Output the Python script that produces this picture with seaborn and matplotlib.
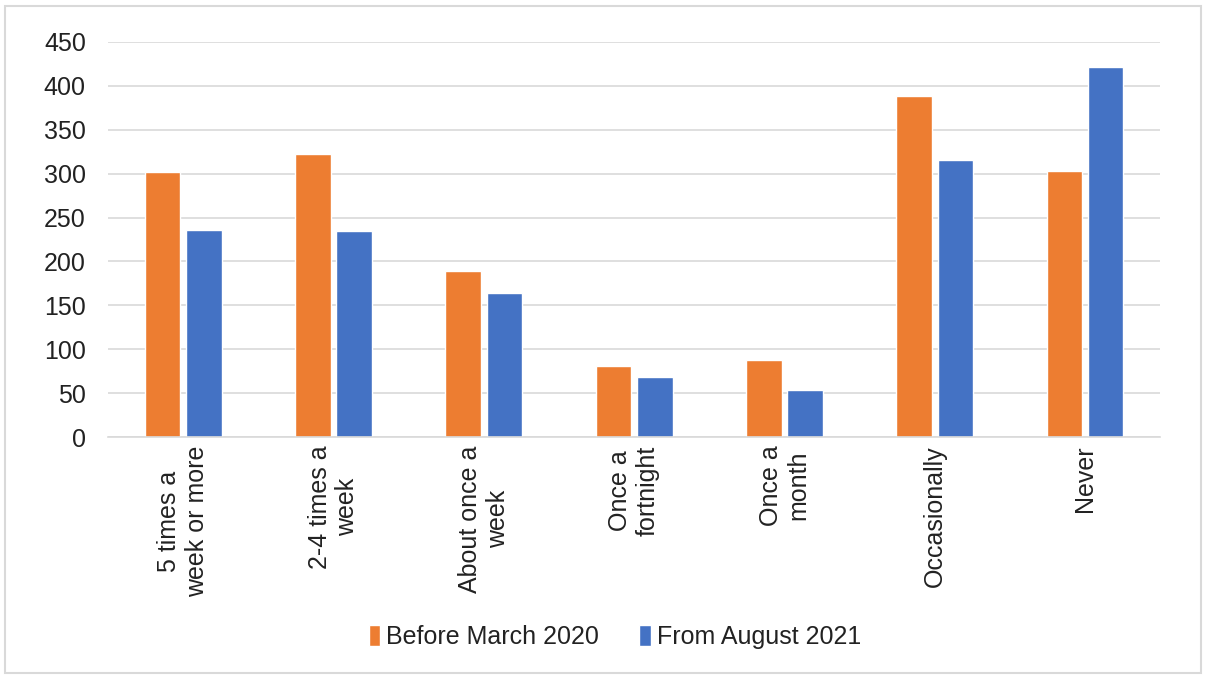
import matplotlib
matplotlib.use("Agg")
import matplotlib.pyplot as plt
import seaborn as sns
import pandas as pd
from matplotlib.patches import Rectangle

categories = ["5 times a\nweek or more", "2-4 times a\nweek", "About once a\nweek",
              "Once a\nfortnight", "Once a\nmonth", "Occasionally", "Never"]
series_names = ["Before March 2020", "From August 2021"]
before_2020 = [302, 322, 189, 81, 88, 389, 303]
from_2021 = [236, 235, 164, 68, 53, 315, 421]
y_ticks = [0, 50, 100, 150, 200, 250, 300, 350, 400, 450]

df = pd.DataFrame({
    "Category": categories * 2,
    "Series": [series_names[0]] * len(categories) + [series_names[1]] * len(categories),
    "Value": before_2020 + from_2021,
})

sns.set_theme(style="white")
plt.rcParams["font.family"] = ["Liberation Sans", "DejaVu Sans"]

fig = plt.figure(figsize=(12.06, 6.77), dpi=100)
ax = fig.add_axes([0.0896, 0.3545, 0.8724, 0.5835])

sns.barplot(data=df, x="Category", y="Value", hue="Series",
            palette=["#ED7D31", "#4472C4"], width=0.55, gap=0.14,
            saturation=1, ax=ax, legend=True)

ax.set_ylim(0, 450)
ax.set_yticks(y_ticks)
ax.set_yticklabels([str(t) for t in y_ticks], fontsize=18, color="#222222")
ax.yaxis.grid(True, color="#d9d9d9", linewidth=1.2)
ax.set_axisbelow(True)
ax.set_xlabel("")
ax.set_ylabel("")
for s in ["top", "right", "left"]:
    ax.spines[s].set_visible(False)
ax.spines["bottom"].set_color("#d9d9d9")
ax.spines["bottom"].set_linewidth(1.2)
ax.tick_params(axis="y", length=0, pad=16)
ax.tick_params(axis="x", length=0, pad=6)
for lbl in ax.get_xticklabels():
    lbl.set_rotation(90)
    lbl.set_ha("center")
    lbl.set_va("top")
    lbl.set_multialignment("center")
    lbl.set_fontsize(18)
    lbl.set_color("#222222")

leg = ax.legend(loc="center", ncol=2, frameon=False, fontsize=18,
                handlelength=0.45, handleheight=0.9,
                handletextpad=0.25, columnspacing=1.6)
leg.set_bbox_to_anchor((0.51, 40 / 677), transform=fig.transFigure)
for t in leg.get_texts():
    t.set_color("#222222")

fig.patches.append(Rectangle((0.004, 0.006), 0.992, 0.985, transform=fig.transFigure,
                             fill=False, edgecolor="#d9d9d9", linewidth=1.5))

fig.savefig("out.png", dpi=100)
